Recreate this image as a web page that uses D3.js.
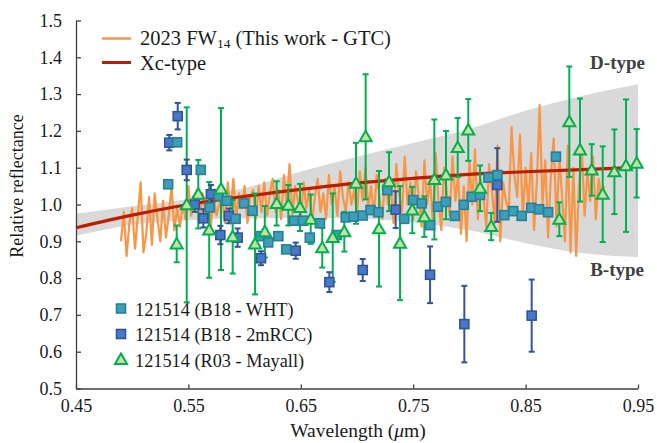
<!DOCTYPE html>
<html>
<head>
<meta charset="utf-8">
<script src="https://cdn.jsdelivr.net/npm/d3@7"></script>
<style>
  html, body { margin: 0; padding: 0; background: #fff; }
  svg { display: block; }
  svg text { font-family: "Liberation Serif", "DejaVu Serif", "Times New Roman", Times, serif; }
</style>
</head>
<body>
<svg id="chart" width="657" height="443"></svg>
<script>
// ---------------- DATA ----------------
const xTicks = [0.45, 0.55, 0.65, 0.75, 0.85, 0.95];
const yTicks = [0.5, 0.6, 0.7, 0.8, 0.9, 1.0, 1.1, 1.2, 1.3, 1.4, 1.5];

// 2023 FW14 spectrum (GTC), sampled every 0.0025 µm from 0.490 µm
const specStart = 0.490;
const specStep = 0.0025;
const specRefl = [
  0.90, 0.98, 0.86, 0.95, 0.99, 0.88, 0.97, 1.06, 0.87, 0.92, 1.02, 0.89, 1.03, 0.96, 0.90, 1.01, 0.91, 0.97, 1.05, 0.93,
  0.99, 0.94, 1.00, 0.96, 1.05, 0.97, 1.02, 1.04, 0.95, 1.03, 0.98, 1.01, 0.94, 1.03, 0.97, 1.00, 1.02, 0.95, 1.06, 0.98,
  1.07, 0.96, 1.03, 0.99, 1.05, 0.95, 1.02, 1.04, 0.96, 1.05, 0.98, 1.06, 0.97, 1.03, 1.07, 0.98, 1.04, 0.96, 1.08, 1.00,
  1.11, 0.97, 1.05, 1.01, 0.96, 1.06, 0.99, 1.04, 0.95, 1.02, 1.07, 0.98, 1.03, 0.96, 1.08, 1.00, 1.05, 0.97, 1.09, 1.02,
  0.98, 1.06, 1.00, 1.04, 0.97, 1.09, 1.01, 1.10, 0.99, 1.05, 0.97, 1.08, 1.02, 0.96, 1.07, 1.00, 1.05, 0.95, 1.11, 1.03,
  0.98, 1.13, 1.00, 1.06, 0.96, 1.09, 1.02, 0.94, 1.12, 1.00, 1.07, 0.95, 1.14, 1.01, 0.93, 1.10, 1.03, 0.97, 1.13, 1.01,
  1.08, 0.92, 1.05, 0.90, 1.12, 1.00, 1.15, 0.96, 1.07, 1.02, 0.94, 1.11, 1.04, 0.95, 1.16, 0.90, 1.06, 1.01, 0.98, 1.21,
  1.08, 1.02, 1.19, 0.96, 1.10, 0.99, 1.14, 0.93, 1.06, 1.27, 1.00, 1.12, 0.91, 1.08, 1.18, 0.94, 1.13, 1.02, 0.90, 1.16,
  0.87, 1.10, 0.86, 1.05, 1.15, 0.97, 1.09, 1.01, 1.13, 0.96, 1.07, 1.02, 1.05
];

// Xc-type template
const xcWave = [0.45, 0.50, 0.55, 0.60, 0.65, 0.70, 0.75, 0.80, 0.85, 0.90, 0.945];
const xcRefl = [0.937, 0.971, 1.000, 1.022, 1.041, 1.058, 1.071, 1.082, 1.089, 1.095, 1.100];

// D-type (upper) and B-type (lower) envelope of grey band
const bandWave  = [0.45, 0.50, 0.55, 0.60, 0.65, 0.70, 0.75, 0.80, 0.85, 0.90, 0.95];
const bandUpper = [0.975, 0.995, 1.015, 1.045, 1.090, 1.130, 1.167, 1.205, 1.255, 1.295, 1.327];
const bandLower = [0.915, 0.945, 0.957, 0.962, 0.963, 0.962, 0.952, 0.930, 0.895, 0.868, 0.857];

// 121514 (B18 - WHT)
const whtWave = [0.532, 0.540, 0.561, 0.569, 0.577, 0.584, 0.592, 0.5995, 0.607, 0.614, 0.621, 0.630, 0.637, 0.644,
  0.652, 0.658, 0.667, 0.682, 0.690, 0.697, 0.705, 0.712, 0.719, 0.727, 0.742, 0.750, 0.7575, 0.765, 0.772, 0.779,
  0.787, 0.795, 0.802, 0.8095, 0.817, 0.825, 0.831, 0.839, 0.8465, 0.855, 0.862, 0.870, 0.877];
const whtRefl = [1.055, 1.169, 1.094, 0.992, 1.023, 1.010, 0.961, 1.003, 0.983, 0.914, 0.897, 0.914, 0.878, 0.956,
  0.956, 0.910, 0.949, 0.917, 0.965, 0.967, 0.970, 0.985, 0.979, 1.039, 0.961, 1.012, 1.003, 0.944, 0.994, 1.007,
  0.969, 0.999, 1.021, 1.026, 1.073, 1.080, 0.971, 0.982, 0.969, 0.991, 0.987, 0.979, 1.130];

// 121514 (B18 - 2mRCC)
const rccWave = [0.533, 0.5405, 0.5485, 0.5557, 0.5633, 0.570, 0.5784, 0.586, 0.5938, 0.6146, 0.6455, 0.6754,
  0.7051, 0.7344, 0.765, 0.7955, 0.8248, 0.8554];
const rccRefl = [1.168, 1.240, 1.094, 1.000, 0.9625, 1.028, 0.917, 0.969, 0.910, 0.854, 0.8745, 0.789,
  0.822, 0.986, 0.809, 0.675, 1.053, 0.698];
const rccErr  = [0.021, 0.036, 0.028, 0.020, 0.025, 0.025, 0.025, 0.020, 0.025, 0.019, 0.022, 0.027,
  0.030, 0.050, 0.077, 0.104, 0.100, 0.098];

// 121514 (R03 - Mayall)
const mayWave = [0.5396, 0.5485, 0.5588, 0.5685, 0.579, 0.5894, 0.6093, 0.618, 0.6285, 0.6389, 0.6493, 0.6588,
  0.6691, 0.6784, 0.6887, 0.6991, 0.7077, 0.7196, 0.7285, 0.7383, 0.7492, 0.7599, 0.7688, 0.7792, 0.7896, 0.799,
  0.8095, 0.8194, 0.880, 0.8889, 0.8984, 0.9088, 0.9186, 0.929, 0.9393, 0.9488];
const mayRefl = [0.893, 0.999, 1.028, 0.931, 1.042, 0.9125, 0.8927, 0.926, 1.003, 0.998, 0.992, 0.960,
  0.8826, 0.910, 0.926, 1.0576, 1.184, 0.934, 1.062, 0.895, 0.985, 0.967, 1.068, 1.080, 1.155, 1.2025,
  1.044, 0.940, 0.960, 1.225, 1.148, 1.094, 1.028, 1.089, 1.1055, 1.112];
const mayErr  = [0.050, 0.265, 0.093, 0.130, 0.220, 0.100, 0.137, 0.070, 0.060, 0.055, 0.064, 0.067,
  0.054, 0.120, 0.054, 0.110, 0.170, 0.157, 0.080, 0.155, 0.063, 0.055, 0.163, 0.120, 0.080, 0.084,
  0.062, 0.037, 0.046, 0.150, 0.140, 0.070, 0.130, 0.115, 0.180, 0.093];

// ---------------- CHART ----------------
const FONT = "'Liberation Serif', 'DejaVu Serif', 'Times New Roman', Times, serif";
const svg = d3.select("#chart");
const x = d3.scaleLinear().domain([0.45, 0.95]).range([76, 638]);
const y = d3.scaleLinear().domain([0.5, 1.5]).range([388.5, 20.5]);

const C = {
  band: "#d9d9d9", orange: "#f79646", red: "#bb1d00",
  green: "#00b050", triFill: "#c6e0a4",
  tealFill: "#3c9fba", tealStroke: "#2a7e95",
  blueFill: "#4a78c8", blueStroke: "#2f5597",
  axis: "#404040", text: "#1a1a1a", label: "#404040"
};

// grey band
const bandPts = bandWave.map((w, i) => ({ w, u: bandUpper[i], l: bandLower[i] }));
svg.append("path")
  .attr("d", d3.area().x(d => x(d.w)).y0(d => y(d.l)).y1(d => y(d.u)).curve(d3.curveMonotoneX)(bandPts))
  .attr("fill", C.band);

// spectrum
const specPts = specRefl.map((r, i) => ({ w: specStart + i * specStep, r }));
svg.append("path")
  .attr("d", d3.line().x(d => x(d.w)).y(d => y(d.r))(specPts))
  .attr("fill", "none").attr("stroke", C.orange).attr("stroke-width", 2.2).attr("stroke-linejoin", "round");

// Xc-type
const xcPts = xcWave.map((w, i) => ({ w, r: xcRefl[i] }));
svg.append("path")
  .attr("d", d3.line().x(d => x(d.w)).y(d => y(d.r)).curve(d3.curveMonotoneX)(xcPts))
  .attr("fill", "none").attr("stroke", C.red).attr("stroke-width", 3.2);

// error bars
function errBars(wave, refl, err, color, cls) {
  const g = svg.append("g").attr("class", cls).attr("stroke", color).attr("stroke-width", 2).attr("fill", "none");
  wave.forEach((w, i) => {
    const cx = x(w), y1 = y(refl[i] + err[i]), y2 = y(refl[i] - err[i]);
    g.append("line").attr("x1", cx).attr("x2", cx).attr("y1", y1).attr("y2", y2);
    g.append("line").attr("x1", cx - 3).attr("x2", cx + 3).attr("y1", y1).attr("y2", y1);
    g.append("line").attr("x1", cx - 3).attr("x2", cx + 3).attr("y1", y2).attr("y2", y2);
  });
}
errBars(mayWave, mayRefl, mayErr, C.green, "may-err");
errBars(rccWave, rccRefl, rccErr, C.blueStroke, "rcc-err");

// squares
const SQ = 9;
function squares(wave, refl, fill, stroke) {
  svg.append("g").selectAll("rect").data(wave).join("rect")
    .attr("x", (w) => x(w) - SQ / 2).attr("y", (w, i) => y(refl[i]) - SQ / 2)
    .attr("width", SQ).attr("height", SQ)
    .attr("fill", fill).attr("stroke", stroke).attr("stroke-width", 1.6);
}
squares(rccWave, rccRefl, C.blueFill, C.blueStroke);
squares(whtWave, whtRefl, C.tealFill, C.tealStroke);

// triangles
const triPath = "M0,-6L6,4.5L-6,4.5Z";
svg.append("g").selectAll("path").data(mayWave).join("path")
  .attr("d", triPath)
  .attr("transform", (w, i) => `translate(${x(w)},${y(mayRefl[i])})`)
  .attr("fill", C.triFill).attr("stroke", C.green).attr("stroke-width", 2).attr("stroke-linejoin", "miter");

// axes
const xAxis = d3.axisBottom(x).tickValues(xTicks).tickFormat(d3.format(".2f"))
  .tickSizeInner(-4).tickSizeOuter(0).tickPadding(11);
const gx = svg.append("g").attr("transform", "translate(0,388.5)").call(xAxis);
const yAxis = d3.axisLeft(y).tickValues(yTicks).tickFormat(d3.format(".1f"))
  .tickSizeInner(-5).tickSizeOuter(0).tickPadding(14);
const gy = svg.append("g").attr("transform", "translate(76,0)").call(yAxis);
[gx, gy].forEach(g => {
  g.attr("font-family", FONT).attr("font-size", 18);
  g.select(".domain").attr("stroke", C.axis).attr("stroke-width", 1.3);
  g.selectAll(".tick line").attr("stroke", C.axis).attr("stroke-width", 1.3);
  g.selectAll(".tick text").attr("fill", C.text).style("font-family", FONT).style("font-size", "18px");
});

function txt(xp, yp, size) {
  return svg.append("text").attr("x", xp).attr("y", yp).style("font-family", FONT)
    .style("font-size", size + "px").attr("fill", C.text);
}

// axis titles
txt(358, 437, 19.5).attr("text-anchor", "middle")
  .call(t => { t.append("tspan").text("Wavelength ("); t.append("tspan").style("font-style", "italic").text("μ"); t.append("tspan").text("m)"); });
svg.append("text").attr("transform", "translate(23,186) rotate(-90)").attr("text-anchor", "middle")
  .style("font-family", FONT).style("font-size", "18px").attr("fill", C.text).text("Relative reflectance");

// D-type / B-type labels
txt(645, 69, 19).attr("text-anchor", "end").style("font-weight", "bold").attr("fill", C.label).text("D-type");
txt(644, 276, 19).attr("text-anchor", "end").style("font-weight", "bold").attr("fill", C.label).text("B-type");

// top legend
svg.append("line").attr("x1", 102).attr("x2", 131).attr("y1", 38.5).attr("y2", 38.5)
  .attr("stroke", C.orange).attr("stroke-width", 2.5);
svg.append("line").attr("x1", 102).attr("x2", 131).attr("y1", 62.5).attr("y2", 62.5)
  .attr("stroke", C.red).attr("stroke-width", 3);
txt(140, 45, 20.5).call(t => {
  t.append("tspan").text("2023 FW");
  t.append("tspan").style("font-size", "13.5px").attr("dy", 3).text("14");
  t.append("tspan").attr("dy", -3).text(" (This work - GTC)");
});
txt(140, 69.5, 20.5).text("Xc-type");

// bottom legend
const legRows = [
  { label: "121514 (B18 - WHT)", type: "teal", yy: 308.5 },
  { label: "121514 (B18 - 2mRCC)", type: "blue", yy: 334 },
  { label: "121514 (R03 - Mayall)", type: "tri", yy: 359.5 }
];
legRows.forEach(r => {
  if (r.type === "tri") {
    svg.append("path").attr("d", triPath).attr("transform", `translate(121,${r.yy})`)
      .attr("fill", C.triFill).attr("stroke", C.green).attr("stroke-width", 2);
  } else {
    svg.append("rect").attr("x", 121 - SQ / 2).attr("y", r.yy - SQ / 2).attr("width", SQ).attr("height", SQ)
      .attr("fill", r.type === "teal" ? C.tealFill : C.blueFill)
      .attr("stroke", r.type === "teal" ? C.tealStroke : C.blueStroke).attr("stroke-width", 1.6);
  }
  txt(135, r.yy + 7, 18.3).text(r.label);
});
</script>
</body>
</html>
